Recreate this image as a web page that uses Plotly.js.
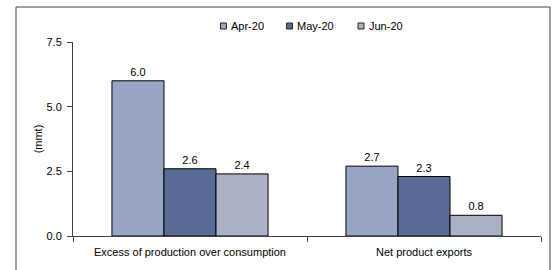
<!DOCTYPE html>
<html>
<head>
<meta charset="utf-8">
<script src="https://cdn.plot.ly/plotly-3.0.1.min.js"></script>
<style>
  html, body { margin: 0; padding: 0; background: #fff; }
  #chart { width: 557px; height: 270px; }
</style>
</head>
<body>
<div id="chart"></div>
<script>
const categories = ["Excess of production over consumption", "Net product exports"];
const seriesNames = ["Apr-20", "May-20", "Jun-20"];
const apr20 = [6.0, 2.7];
const may20 = [2.6, 2.3];
const jun20 = [2.4, 0.8];
const seriesValues = [apr20, may20, jun20];
const seriesColors = ["#97A6C4", "#5A6B95", "#ACB0C5"];
const yTickVals = [0, 2.5, 5.0, 7.5];
const yTitle = "(mmt)";

const font = { family: "Liberation Sans, Arial, sans-serif", size: 11, color: "#000" };

const W = 557, H = 270;
const M = { l: 73, r: 16, t: 42, b: 34 };
const plotW = W - M.l - M.r, plotH = H - M.t - M.b;
const px2x = px => (px - M.l) / plotW;
const px2y = py => (H - M.b - py) / plotH;

const traces = seriesValues.map((vals, i) => ({
  type: "bar",
  name: seriesNames[i],
  x: categories,
  y: vals,
  marker: { color: seriesColors[i], line: { color: "#000", width: 1 } },
  texttemplate: "%{y:.1f}",
  textposition: "outside",
  textfont: font,
  cliponaxis: false,
  hoverinfo: "none",
  showlegend: false
}));

// custom compact legend (small square + label), like the original
const legendSquareX = [220.5, 286.5, 358];
const legendY = 26;
const legendShapes = seriesNames.map((n, i) => ({
  type: "rect", xref: "paper", yref: "paper",
  x0: px2x(legendSquareX[i]), x1: px2x(legendSquareX[i] + 6),
  y0: px2y(legendY + 3), y1: px2y(legendY - 3),
  fillcolor: seriesColors[i],
  line: { color: "#222", width: 1 }
}));
const legendAnnotations = seriesNames.map((n, i) => ({
  xref: "paper", yref: "paper",
  x: px2x(legendSquareX[i] + 8.5), y: px2y(legendY),
  xanchor: "left", yanchor: "middle",
  text: n, showarrow: false, font: font
}));

const layout = {
  width: W,
  height: H,
  margin: { l: M.l, r: M.r, t: M.t, b: M.b, pad: 0 },
  paper_bgcolor: "#fff",
  plot_bgcolor: "#fff",
  font: font,
  barmode: "group",
  bargap: 0.333,
  bargroupgap: 0,
  showlegend: false,
  xaxis: {
    type: "category",
    showline: true, linecolor: "#404040", linewidth: 1,
    ticks: "outside", tickson: "boundaries", ticklen: 5, tickcolor: "#404040",
    ticklabelstandoff: 6,
    showgrid: false, zeroline: false,
    tickfont: font
  },
  yaxis: {
    range: [0, 7.5],
    tickvals: yTickVals,
    tickformat: ".1f",
    showline: true, linecolor: "#404040", linewidth: 1,
    ticks: "outside", ticklen: 5, tickcolor: "#404040",
    ticklabelstandoff: 3,
    showgrid: false, zeroline: false,
    tickfont: font,
    title: { text: yTitle, font: font, standoff: 1 }
  },
  annotations: legendAnnotations,
  shapes: [{
    type: "rect", xref: "paper", yref: "paper",
    x0: px2x(16), x1: px2x(550), y0: px2y(276), y1: px2y(7),
    line: { color: "#404040", width: 1 },
    fillcolor: "rgba(0,0,0,0)",
    layer: "below"
  }].concat(legendShapes)
};

Plotly.newPlot("chart", traces, layout, { staticPlot: true, displayModeBar: false });
</script>
</body>
</html>
